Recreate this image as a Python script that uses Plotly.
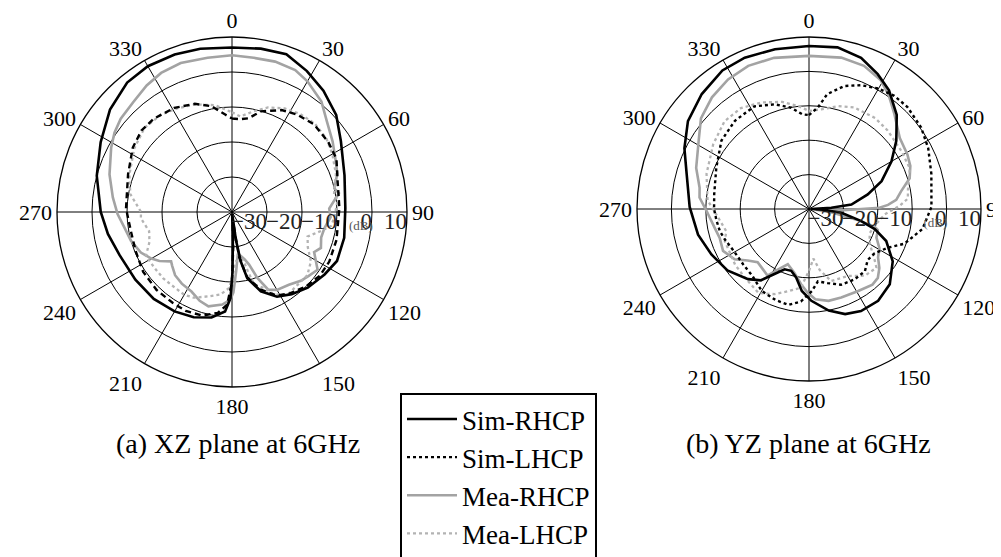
import plotly.graph_objects as go

# ---------------- data (dB vs angle in degrees) ----------------
# (a) XZ plane
xz_sim_rhcp_th = [0, 10, 19, 28, 37, 47, 57, 72, 88, 103, 115, 124, 135, 144, 152, 160, 167, 170, 172, 175,
                  178, 179.5, 181, 184, 191, 200, 210, 222, 235, 249, 260, 270, 285, 298, 310, 321, 330, 340, 349, 360]
xz_sim_rhcp_r = [7.0, 7.4, 7.7, 5.6, 3.4, 0.7, -2.9, -6.2, -7.6, -7.1, -6.9, -8.1, -9.4, -11.0, -12.6, -15.9, -20.6, -25.7, -32, -39.5,
                 -32.6, -23, -15.4, -11.5, -9.3, -8.0, -7.2, -6.6, -6.3, -5.6, -4.0, -2.5, 0.0, 2.5, 5.5, 7.6, 8.1, 7.9, 7.5, 7.0]

xz_sim_lhcp_th = [0, 5, 10, 16, 26, 34, 43, 54, 63, 74, 88, 105, 117, 126, 135, 145, 152, 160, 167, 171, 175,
                  178, 180, 183, 188, 196, 205, 213, 224, 236, 248, 259, 272, 290, 303, 312, 320, 331, 341, 349, 356, 360]
xz_sim_lhcp_r = [-13.3, -13.4, -12.8, -10.1, -7.6, -6.5, -5.7, -6.0, -6.5, -8.6, -9.3, -9.1, -8.8, -9.0, -10.0, -11.5, -13.0, -16.5, -21, -27, -38,
                 -30, -20, -13.5, -10.9, -9.2, -8.8, -9.0, -9.0, -9.4, -10.3, -10.6, -9.7, -8.4, -6.2, -5.2, -5.2, -6.0, -7.3, -9.2, -12.1, -13.3]

xz_mea_rhcp_th = [0, 8, 16, 24, 30, 39, 46, 55, 64, 70, 77, 80, 88, 93, 100, 106, 112, 116, 124, 130, 135, 142, 150, 155, 159, 162,
                  165, 168, 172, 176, 179, 181, 186, 194, 200, 207, 215, 222, 228, 231, 236, 240, 246, 254, 262, 269, 277, 287,
                  298, 304, 310, 318, 326, 333, 341, 351, 360]
xz_mea_rhcp_r = [4.8, 4.5, 4.7, 4.4, 3.1, 0.6, -2.4, -4.9, -7.0, -8.0, -10.0, -9.0, -12.2, -11.8, -13.2, -13.5, -12.6, -13.9, -10.5, -11.5,
                 -12.2, -13.6, -14.3, -15.5, -19.8, -24.2, -26, -27, -28, -23, -17, -15, -13.4, -12.2, -13.0, -14.5, -15.0, -15.7,
                 -17.0, -17.6, -15.0, -13.4, -11.5, -10.0, -8.9, -7.3, -5.7, -3.4, -0.9, 0.5, 1.5, 2.2, 3.6, 4.6, 5.0, 4.6, 4.8]

xz_mea_lhcp_th = [0, 5, 12, 19, 27, 35, 43, 52, 60, 70, 80, 84, 93, 98, 102, 108, 115, 122, 130, 138, 146, 153, 157, 163, 165,
                  167, 175, 182, 188, 196, 204, 210, 220, 226, 234, 243, 250, 257, 266, 270, 280, 290, 303, 314, 324, 332, 341,
                  351, 360]
xz_mea_lhcp_r = [-11.5, -12.6, -10.6, -8.4, -6.8, -5.9, -5.4, -5.8, -6.9, -8.4, -10.4, -9.7, -10.7, -11.4, -14.0, -17.3, -16.1, -13.4,
                 -11.9, -12.0, -11.5, -13.5, -16.4, -18.3, -22.5, -26.0, -26.0, -18.3, -16.2, -14.9, -13.2, -12.7, -12.9, -12.7,
                 -12.7, -12.4, -14.9, -15.7, -13.9, -14.0, -10.5, -8.8, -6.7, -5.3, -5.6, -6.5, -7.5, -9.1, -11.5]

# (b) YZ plane
yz_sim_rhcp_th = [0, 10, 19, 27, 34, 43, 52, 60, 69, 76, 84, 87, 90, 93, 96.5, 103, 107, 112.5, 122, 133, 143, 153, 161, 169,
                  178.5, 185, 190.5, 196, 202, 208, 214, 221, 233, 245, 257, 271, 286, 296, 306, 317, 328, 337, 348, 360]
yz_sim_rhcp_r = [7.4, 7.7, 6.5, 4.0, 1.6, -2.6, -7.8, -12.3, -17.4, -22.4, -27.6, -33.5, -39.5, -36, -30.5, -24.4, -20.0, -15.7,
                 -11.3, -7.9, -6.6, -6.7, -7.7, -9.9, -13.3, -16.1, -19.7, -21.3, -21.1, -18.6, -15.0, -13.0, -10.3, -8.7, -6.9,
                 -5.3, -3.0, 0.3, 3.5, 5.7, 7.5, 7.8, 7.5, 7.4]

yz_sim_lhcp_th = [0, 5, 9, 16, 23, 30, 37, 44, 54, 63, 74, 89, 100, 110, 116, 124, 131, 138, 147, 157, 166, 173, 178, 185,
                  192, 200, 210, 220, 230, 240, 250, 256, 263, 270, 279, 294, 308, 320, 332, 342, 350, 356, 360]
yz_sim_lhcp_r = [-12.7, -10.4, -6.2, -2.8, -0.9, 0.4, 1.2, 1.2, 0.3, -1.1, -3.0, -4.4, -6.5, -10.5, -14.4, -17.0, -17.4, -15.7,
                 -15.6, -16.1, -17.8, -18.8, -16.1, -13.0, -11.5, -11.8, -12.5, -14.5, -15.0, -15.0, -14.0, -13.3, -12.9, -12.4,
                 -12.1, -10.5, -7.7, -6.5, -6.2, -8.0, -10.1, -12.4, -12.7]

yz_mea_rhcp_th = [0, 12, 21, 29, 35, 42, 52, 61, 67, 73, 79, 84, 87, 89, 92, 95, 99, 103, 105, 107, 113, 119, 125, 130, 135,
                  140, 149, 160, 168, 176, 181, 186, 193, 201, 207, 212, 218, 224, 230, 236, 244, 252, 259, 269, 276, 281, 290,
                  302, 310, 319, 328, 337, 347, 360]
yz_mea_rhcp_r = [4.5, 5.0, 4.6, 2.9, 0.4, -2.9, -6.5, -7.3, -8.0, -9.4, -12.7, -14.5, -17.0, -19.5, -30, -38, -33, -25, -20.3,
                 -19.1, -18.7, -16.6, -15.5, -13.3, -11.7, -11.3, -12.2, -12.6, -12.7, -13.7, -15.7, -18.0, -21.0, -22.8, -20.3,
                 -17.2, -18.0, -18.5, -16.7, -13.9, -12.2, -12.7, -12.0, -10.2, -8.0, -7.6, -5.1, -2.2, 1.0, 3.0, 4.4, 5.2, 5.1, 4.5]

yz_mea_lhcp_th = [0, 7, 16, 24, 36, 45, 58, 68, 79, 84, 88, 94, 104, 112, 120, 127, 131, 140, 150, 163, 170, 175, 180, 186,
                  194, 202, 211, 223, 233, 249, 255, 265, 275, 289, 304, 316, 326, 336, 346, 354, 360]
yz_mea_lhcp_r = [-11.5, -10.8, -8.9, -7.7, -7.3, -7.7, -8.3, -8.4, -10.7, -11.1, -13.6, -17.9, -20.3, -21.0, -19.6, -16.3, -14.0,
                 -14.7, -17.5, -18.1, -22.0, -25.5, -22.0, -17.0, -15.4, -13.3, -11.5, -12.7, -13.1, -13.8, -15.1, -13.4, -10.4,
                 -8.5, -6.4, -4.6, -4.6, -6.1, -7.9, -9.9, -11.5]

angle_ticks = list(range(0, 360, 30))
angle_labels = [str(a) for a in angle_ticks]
radial_grid = [-30, -20, -10, 0]
radial_label_vals = [-30, -20, -10, 0, 10]
radial_label_text = ["\u221230", "\u221220", "\u221210", "0", "10"]
series_names = ["Sim-RHCP", "Sim-LHCP", "Mea-RHCP", "Mea-LHCP"]
captions = ["(a) XZ plane at 6GHz", "(b) YZ plane at 6GHz"]

# ---------------- styles ----------------
BLACK = "#000000"
GRAY = "#a3a3a3"
GRAY_DOT = "#b3b3b3"
FONT = "Liberation Serif"

fig = go.Figure()

def add_set(subplot, sets, lhcp_dash, show):
    styles = [
        dict(color=BLACK, width=2.6, dash="solid"),
        dict(color=BLACK, width=2.4, dash=lhcp_dash),
        dict(color=GRAY, width=2.6, dash="solid"),
        dict(color=GRAY_DOT, width=2.3, dash="dot"),
    ]
    order = [2, 3, 1, 0]
    for i in order:
        th, r = sets[i]
        fig.add_trace(go.Scatterpolar(
            r=r, theta=th, mode="lines", name=series_names[i],
            line=styles[i], subplot=subplot, showlegend=show,
            legendrank=i + 1, hoverinfo="skip"))
    fig.add_trace(go.Scatterpolar(
        r=radial_label_vals, theta=[90] * len(radial_label_vals), mode="text",
        text=radial_label_text, textposition="bottom left",
        textfont=dict(family=FONT, size=23, color="#222222"),
        subplot=subplot, showlegend=False, hoverinfo="skip", cliponaxis=False))
    fig.add_trace(go.Scatterpolar(
        r=[0.3], theta=[93.5], mode="text", text=["(dB)"], textposition="bottom left",
        textfont=dict(family=FONT, size=13, color="#555555"),
        subplot=subplot, showlegend=False, hoverinfo="skip", cliponaxis=False))

add_set("polar", [(xz_sim_rhcp_th, xz_sim_rhcp_r), (xz_sim_lhcp_th, xz_sim_lhcp_r),
                  (xz_mea_rhcp_th, xz_mea_rhcp_r), (xz_mea_lhcp_th, xz_mea_lhcp_r)], "6px,4px", False)
add_set("polar2", [(yz_sim_rhcp_th, yz_sim_rhcp_r), (yz_sim_lhcp_th, yz_sim_lhcp_r),
                   (yz_mea_rhcp_th, yz_mea_rhcp_r), (yz_mea_lhcp_th, yz_mea_lhcp_r)], "dot", True)

def polar_layout(xd, yd):
    return dict(
        domain=dict(x=xd, y=yd),
        bgcolor="white",
        angularaxis=dict(rotation=90, direction="clockwise", tickmode="array",
                         tickvals=angle_ticks, ticktext=angle_labels,
                         showgrid=True, gridcolor=BLACK, gridwidth=1,
                         showline=True, linecolor=BLACK, linewidth=1.3, ticks="",
                         tickfont=dict(family=FONT, size=22, color=BLACK)),
        radialaxis=dict(range=[-40, 10], tickmode="array", tickvals=radial_grid,
                        showticklabels=False, ticks="", showline=False,
                        showgrid=True, gridcolor=BLACK, gridwidth=1),
    )

W, H = 1001, 557
fig.update_layout(
    width=W, height=H,
    paper_bgcolor="white", plot_bgcolor="white",
    margin=dict(l=0, r=0, t=0, b=0),
    polar=polar_layout([49 / W, 399 / W], [(H - 379) / H, (H - 29) / H]),
    polar2=polar_layout([629 / W, 973 / W], [(H - 373) / H, (H - 29) / H]),
    legend=dict(x=392 / W, y=(H - 385) / H, xanchor="left", yanchor="top",
                bgcolor="white", bordercolor=BLACK, borderwidth=2,
                font=dict(family=FONT, size=27, color=BLACK),
                itemwidth=50, tracegroupgap=0, traceorder="normal",
                entrywidth=175, entrywidthmode="pixels"),
    annotations=[
        dict(text=captions[0], x=230 / W, y=(H - 435) / H, xref="paper", yref="paper",
             showarrow=False, xanchor="center", yanchor="middle",
             font=dict(family=FONT, size=28, color=BLACK)),
        dict(text=captions[1], x=800 / W, y=(H - 435) / H, xref="paper", yref="paper",
             showarrow=False, xanchor="center", yanchor="middle",
             font=dict(family=FONT, size=28, color=BLACK)),
    ],
)

fig.write_html("out.html")
